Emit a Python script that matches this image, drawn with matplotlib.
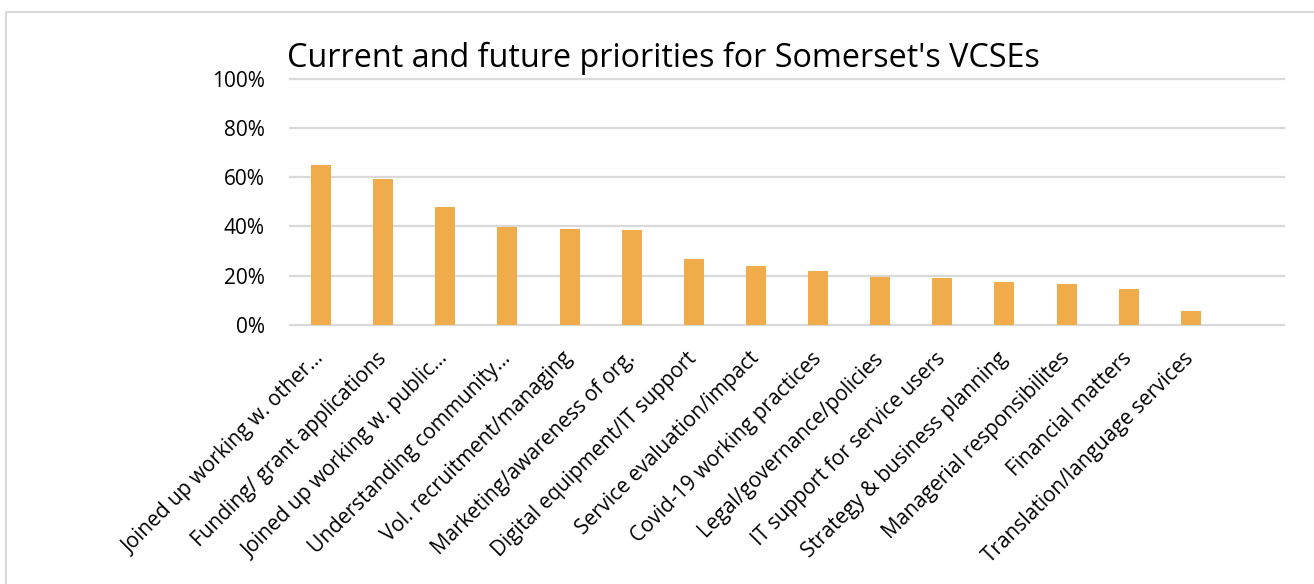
import matplotlib
matplotlib.use("Agg")
import matplotlib.pyplot as plt
from matplotlib.patches import Rectangle
from matplotlib.ticker import PercentFormatter
import numpy as np

categories = [
    "Joined up working w. other\u2026",
    "Funding/ grant applications",
    "Joined up working w. public\u2026",
    "Understanding community\u2026",
    "Vol. recruitment/managing",
    "Marketing/awareness of org.",
    "Digital equipment/IT support",
    "Service evaluation/impact",
    "Covid-19 working practices",
    "Legal/governance/policies",
    "IT support for service users",
    "Strategy & business planning",
    "Managerial responsibilites",
    "Financial matters",
    "Translation/language services",
]
shares = [0.651, 0.594, 0.478, 0.399, 0.391, 0.384, 0.267,
          0.239, 0.218, 0.195, 0.189, 0.174, 0.167, 0.145, 0.057]
y_ticks = [0, 0.2, 0.4, 0.6, 0.8, 1.0]
title = "Current and future priorities for Somerset's VCSEs"

W, H = 1314, 584
bar_color = "#F0AC4B"
grid_color = "#D9D9D9"

plt.rcParams["font.family"] = ["Open Sans", "DejaVu Sans"]

fig = plt.figure(figsize=(W / 100, H / 100), dpi=100)

# chart area border (only top/left edges fall inside the picture)
fig.patches.append(Rectangle((6 / W, -0.1), 1.2, 1 - 12 / H + 0.1,
                             transform=fig.transFigure, fill=False,
                             edgecolor=grid_color, linewidth=1.5))

ax = fig.add_axes([290 / W, 1 - 324.7 / H, (1284 - 290) / W, (324.7 - 79) / H])

x = np.arange(len(categories))
ax.bar(x, shares, width=0.32, color=bar_color, zorder=3)

# one empty category slot at the end, as in the source sheet
ax.set_xlim(-0.5, len(categories) + 0.5)
ax.set_ylim(0, 1.0)
ax.set_yticks(y_ticks)
ax.yaxis.set_major_formatter(PercentFormatter(1.0, decimals=0))
ax.set_xticks(x, categories, rotation=45, ha="right", va="center",
              rotation_mode="anchor")

for gl_y in y_ticks:
    ax.axhline(gl_y, color=grid_color, linewidth=1.6, zorder=1, clip_on=False)

for s in ax.spines.values():
    s.set_visible(False)
ax.tick_params(axis="both", length=0, labelsize=15, colors="black")
ax.tick_params(axis="y", pad=18)
ax.tick_params(axis="x", pad=22)

fig.text(287 / W, 1 - 58 / H, title, fontsize=23.3, ha="left", va="center")

fig.savefig("out.png", dpi=100)
